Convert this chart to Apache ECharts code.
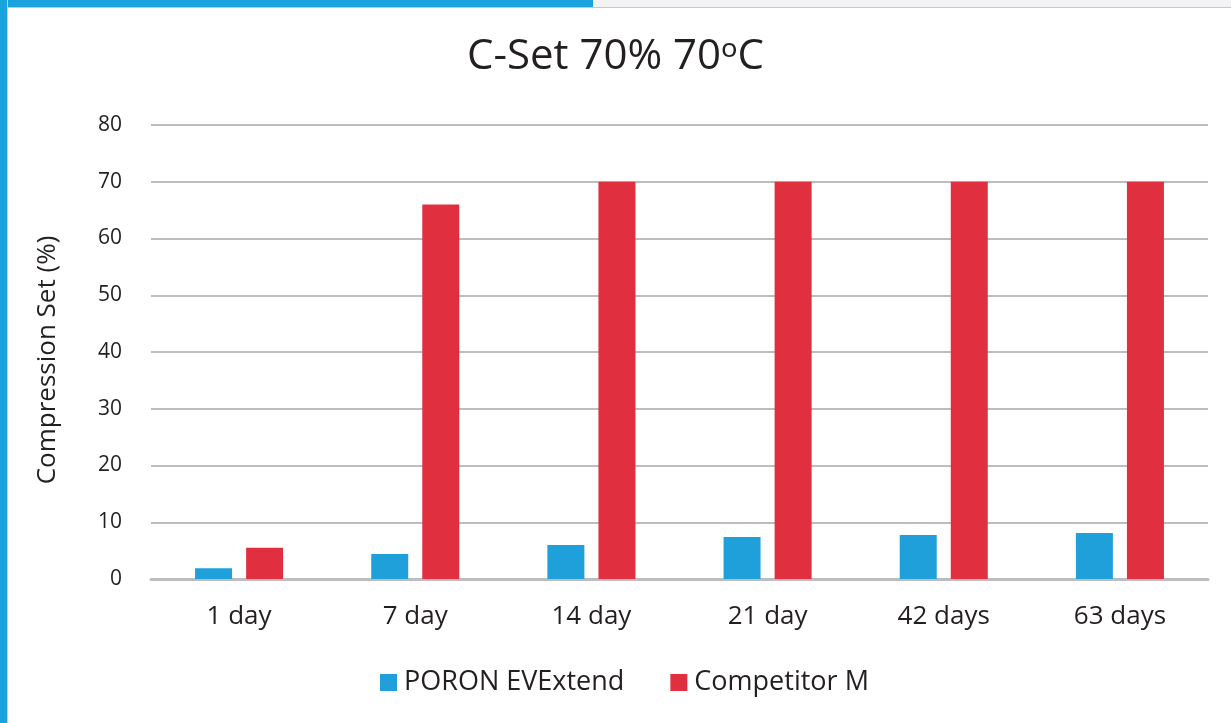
<!DOCTYPE html>
<html>
<head>
<meta charset="utf-8">
<script src="https://cdn.jsdelivr.net/npm/echarts@6/dist/echarts.min.js"></script>
<style>
html,body{margin:0;padding:0;background:#fff;width:1231px;height:723px;overflow:hidden;}
#topbar{position:absolute;left:0;top:0;width:1231px;height:7px;background:#f3f3f5;border-bottom:1px solid #c8c8ca;}
#topblue{position:absolute;left:0;top:0;width:593px;height:7px;background:#1aa3de;}
#leftblue{position:absolute;left:0;top:0;width:7px;height:723px;background:#1aa3de;border-right:1px solid #d0d0d2;}
#chart{position:absolute;left:0;top:0;width:1231px;height:723px;}
</style>
</head>
<body>
<div id="chart"></div>
<div id="topbar"></div>
<div id="topblue"></div>
<div id="leftblue"></div>
<script>
const categories = ['1 day','7 day','14 day','21 day','42 days','63 days'];
const poronValues = [1.9, 4.4, 6.0, 7.4, 7.75, 8.1];
const competitorValues = [5.5, 66, 70, 70, 70, 70];
const seriesNames = ['PORON EVExtend','Competitor M'];
const yTicks = {min:0, max:80, interval:10};

const chart = echarts.init(document.getElementById('chart'), null, {renderer:'canvas'});
const font = '"Open Sans", "Noto Sans", sans-serif';
chart.setOption({
  animation:false,
  title:{text:'C-Set 70% 70\u1d52C', left:'center', top:31,
    textStyle:{fontFamily:font, fontSize:42, fontWeight:'normal', color:'#231f20'}},
  legend:{data:seriesNames, bottom:22, left:375, itemWidth:17, itemHeight:17, itemGap:46,
    icon:'rect', textStyle:{fontFamily:font, fontSize:27, color:'#231f20', padding:[0,0,0,2]}},
  grid:{left:151, right:23, top:125, bottom:144, containLabel:false},
  xAxis:{type:'category', data:categories,
    axisLine:{lineStyle:{color:'#bdbdc0', width:3}}, axisTick:{show:false},
    axisLabel:{fontFamily:font, fontSize:26, color:'#231f20', margin:25}},
  yAxis:{type:'value', min:yTicks.min, max:yTicks.max, interval:yTicks.interval,
    name:'Compression Set (%)', nameLocation:'middle', nameGap:90,
    nameTextStyle:{fontFamily:font, fontSize:26, color:'#231f20', padding:[0,16,0,0]},
    axisLine:{show:false}, axisTick:{show:false},
    axisLabel:{fontFamily:font, fontSize:21, color:'#231f20', margin:29},
    splitLine:{lineStyle:{color:'#bdbdc0', width:2}}},
  series:[
    {name:seriesNames[0], type:'bar', data:poronValues, barWidth:37, barGap:'38%', itemStyle:{color:'#1fa0db'}},
    {name:seriesNames[1], type:'bar', data:competitorValues, barWidth:37, barGap:'38%', itemStyle:{color:'#e03040'}}
  ]
});
</script>
</body>
</html>
